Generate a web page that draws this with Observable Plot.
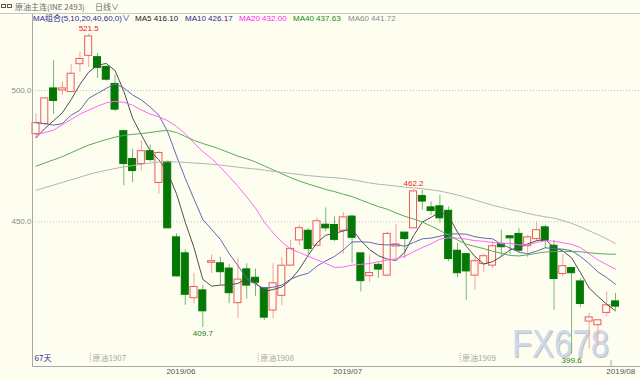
<!DOCTYPE html>
<html><head><meta charset="utf-8">
<script src="https://cdn.jsdelivr.net/npm/d3@7"></script>
<script src="https://cdn.jsdelivr.net/npm/@observablehq/plot@0.6"></script>
<style>
html,body{margin:0;padding:0;background:#fefef0;}
#chart{width:640px;height:380px;overflow:hidden;}
</style></head><body><div id="chart"></div>
<script>
// ---- data ----
const opens  = [483.6,487.4,500.6,500.2,499.6,510.2,513.4,512.5,508.8,502.3,484.3,473.7,472.2,476.7,465.0,472.6,443.9,437.8,421.1,423.7,434.6,434.0,432.0,419.2,431.7,428.5,424.5,416.4,422.0,433.5,443.1,446.4,441.1,448.7,448.6,446.8,451.8,437.8,429.5,433.4,429.7,440.8,445.7,447.7,459.6,455.3,455.7,454.0,438.8,437.5,429.7,434.1,433.5,441.4,444.3,445.2,440.9,443.6,447.7,440.7,430.3,432.2,427.1,412.2,410.8,415.5,419.5];
const highs  = [491.2,497.3,511.3,503.3,509.8,514.7,521.5,514.1,509.4,505.8,484.9,477.6,480.8,479.2,476.7,473.1,445.4,439.3,430.3,425.9,437.3,436.5,433.7,436.0,434.0,432.0,424.7,434.0,436.3,443.0,448.7,447.4,451.5,455.3,451.9,453.5,452.5,437.8,437.3,434.4,446.0,449.0,445.7,462.2,462.0,457.6,460.1,455.7,441.7,437.5,436.7,437.7,442.4,446.8,444.6,447.5,444.9,449.7,448.7,443.0,437.5,432.2,428.4,415.1,412.3,423.3,422.7];
const lows   = [481.7,486.5,490.9,498.2,499.2,506.9,508.8,504.6,503.5,491.9,463.7,464.9,469.3,472.8,460.5,447.4,429.0,418.2,418.8,409.7,430.3,426.0,418.8,413.2,420.5,421.5,412.4,413.0,418.0,433.5,440.9,437.3,441.1,446.2,442.4,437.7,434.1,423.3,426.9,428.4,429.0,436.0,436.0,447.7,454.4,452.5,449.4,434.8,428.7,420.1,424.0,430.6,432.2,436.7,437.5,437.9,436.3,442.4,439.8,416.3,429.1,399.6,417.3,401.5,403.0,413.8,416.3];
const closes = [487.4,496.8,496.2,500.6,506.2,511.8,520.4,508.8,504.3,492.9,472.2,469.5,476.7,473.7,476.0,447.7,429.4,422.4,425.0,416.1,434.8,431.0,423.0,427.8,425.9,427.0,413.7,426.4,433.1,439.5,447.4,439.8,450.0,447.7,443.3,451.5,444.1,427.6,430.3,432.0,445.2,441.2,443.6,461.4,457.9,454.3,451.5,436.0,430.6,431.3,434.8,436.7,440.5,440.5,443.9,439.2,443.9,446.6,442.9,428.4,432.9,430.6,418.9,413.4,412.3,418.0,417.9];

const ma5  = [482.0,485.5,488.5,491.5,496.5,502.3,507.0,509.6,510.3,507.6,499.7,489.5,483.1,477.0,473.6,468.7,460.7,449.8,440.1,428.1,425.5,425.9,426.0,426.5,428.5,426.9,423.5,424.2,425.2,427.9,432.0,437.2,442.0,444.9,445.6,446.5,447.3,442.8,439.4,437.1,435.8,435.3,438.5,444.7,449.9,451.7,453.7,452.2,446.1,440.7,436.8,433.9,434.8,436.8,439.3,440.2,441.6,442.8,443.3,440.2,438.9,436.3,430.7,424.8,421.6,418.6,416.10];
const ma10 = [487.7,487.4,486.8,487.4,490.6,492.5,497.0,498.9,500.8,502.5,501.0,498.3,496.4,493.7,490.6,484.2,475.1,466.5,458.6,450.9,447.1,443.3,437.9,433.3,428.3,426.2,424.7,425.1,425.9,428.2,429.5,430.4,433.1,435.1,436.8,439.3,442.3,442.4,442.2,441.4,441.2,441.3,440.7,442.1,443.5,443.8,444.5,445.4,445.4,445.3,444.3,443.8,443.5,441.5,440.0,438.5,437.8,438.8,440.1,439.8,439.6,439.0,436.8,434.1,430.9,428.8,426.17];
const ma20 = [483.2,484.0,484.9,487.0,489.0,491.0,492.5,494.0,495.3,495.9,495.5,494.4,492.6,491.0,490.0,488.5,486.3,483.5,480.0,476.7,474.1,470.8,467.2,463.5,459.5,455.2,449.9,445.8,442.3,439.6,438.3,436.9,435.5,434.2,432.6,432.8,433.5,433.8,434.1,434.8,435.4,435.9,436.9,438.6,440.2,441.6,443.4,443.9,443.8,443.4,442.8,442.6,442.1,441.8,441.8,441.2,441.2,442.1,442.8,442.6,442.0,441.4,440.2,437.8,435.5,433.7,432.00];
const ma40 = [471.2,472.4,473.6,474.8,476.3,477.8,479.2,480.3,481.3,482.2,482.9,483.3,483.6,484.0,484.5,484.8,484.0,482.5,481.0,479.8,478.8,477.6,476.3,475.0,474.0,472.8,471.3,469.8,468.3,466.8,465.5,464.4,463.4,462.3,461.5,460.5,459.6,458.3,457.0,455.8,454.8,453.4,452.1,451.1,449.9,448.4,446.7,444.9,443.1,441.5,440.6,439.8,438.8,438.0,437.2,437.0,437.4,438.0,438.5,438.7,438.7,438.7,438.6,438.2,437.9,437.7,437.63];
const ma60 = [462.0,463.0,464.0,465.0,466.0,467.0,468.0,468.9,469.6,470.3,470.9,471.4,471.9,472.4,472.8,472.9,472.8,472.6,472.4,472.2,471.9,471.6,471.2,470.8,470.4,470.1,469.7,469.2,468.8,468.4,468.0,467.6,467.3,467.0,466.8,466.5,466.0,465.4,464.8,464.3,464.0,463.6,463.2,462.9,462.6,462.2,461.7,461.0,460.2,459.3,458.3,457.3,456.3,455.5,454.7,454.0,453.2,452.5,451.9,451.4,450.5,449.4,448.1,446.6,445.1,443.5,441.72];

const peakIdx   = [6, 43];     // labelled highs
const troughIdx = [19, 61];    // labelled lows
const monthPos    = [16.5, 35.5, 66.6];
const monthLabels = ["2019/06", "2019/07", "2019/08"];
const rollPos    = [6.2, 25.3, 48.3];
const rollLabels = ["原油1907", "原油1908", "原油1909"];
const yTicks = [450, 500];

const maNames  = ["MA5", "MA10", "MA20", "MA40", "MA60"];
const maSeries = [ma5, ma10, ma20, ma40, ma60];
const maColors = ["#505050", "#6565b5", "#ff66ff", "#5aaa5a", "#b4b4b4"];
const maLegendColors = ["#202020", "#2a2a8a", "#ff22ff", "#108a10", "#8a8a8a"];

// ---- build ----
const bg = "#fefef0";
const xDomain = [-0.4, 68.85];
const yDomain = [394.9, 529.32];
const candles = opens.map((o, i) => ({i, o, h: highs[i], l: lows[i], c: closes[i], up: closes[i] >= o}));
const maData = maSeries.flatMap((arr, k) => arr.map((v, i) => ({i, v, k})));
const peaks = peakIdx.map(i => ({i, v: highs[i]}));
const troughs = troughIdx.map(i => ({i, v: lows[i]}));
const rolls = rollPos.map((p, k) => ({i: p, label: rollLabels[k]}));

const upStroke = "#f05858", upWick = "#f3a0a0";
const dnFill = "#047804", dnWick = "#74b874";

const chartSvg = Plot.plot({
  width: 640, height: 380,
  marginLeft: 32, marginRight: 0, marginTop: 13, marginBottom: 14,
  x: {type: "linear", domain: xDomain},
  y: {type: "linear", domain: yDomain},
  style: {background: bg, fontFamily: "'Liberation Sans', Arial, sans-serif", fontSize: "8px"},
  marks: [
    Plot.gridY(yTicks, {stroke: "#bdbdbd", strokeOpacity: 1, strokeDasharray: "1,2"}),
    Plot.ruleX(candles, {x: "i", y1: "l", y2: "h", stroke: d => d.up ? upWick : dnWick}),
    Plot.rect(candles, {
      x1: d => d.i - 0.4, x2: d => d.i + 0.4, y1: "o", y2: "c",
      insetTop: -0.5, insetBottom: -0.5,
      fill: d => d.up ? bg : dnFill, stroke: d => d.up ? upStroke : dnFill, strokeWidth: 1
    }),
    Plot.line(maData, {x: "i", y: "v", z: "k", stroke: d => maColors[d.k], strokeWidth: 1}),
    Plot.text(peaks, {x: "i", y: "v", text: d => d.v.toFixed(1), dy: -6, fill: "#e82020", fontSize: 8}),
    Plot.text(troughs, {x: "i", y: "v", text: d => d.v.toFixed(1), dy: 6, fill: "#1a7a1a", fontSize: 8}),
    Plot.ruleX(rolls, {x: "i", insetTop: 340, insetBottom: 3, stroke: "#aaaaaa", strokeDasharray: "1,1"}),
    Plot.text(rolls, {x: "i", frameAnchor: "bottom", text: "label", textAnchor: "start", dx: 2, dy: -6, fill: "#a8a8a8",
      fontFamily: "'Noto Sans CJK SC', sans-serif", fontSize: 8}),
    Plot.text([`${closes.length}天`], {frameAnchor: "bottom-left", dx: 2, dy: -6, fill: "#2a2a9a",
      fontFamily: "'Noto Sans CJK SC', sans-serif", fontSize: 8}),
    Plot.ruleX([xDomain[0]], {stroke: "#a8a8a8"}),
    Plot.ruleY([yDomain[0]], {stroke: "#a8a8a8"}),
    Plot.ruleX([65.5], {insetTop: 347, stroke: "#a8a8a8"}),
    Plot.axisY(yTicks, {tickFormat: d => d.toFixed(1), tickSize: 0, tickPadding: 1, fill: "#8c8c8c", label: null, fontSize: 8}),
    Plot.axisX(monthPos, {tickFormat: d => monthLabels[monthPos.indexOf(d)], tickSize: 0, tickPadding: 2, fill: "#555", label: null, fontSize: 8})
  ]
});
document.getElementById("chart").appendChild(chartSvg);

// ---- decorations: header, legend, watermark ----
const s = d3.select(chartSvg);
const wm = s.insert("g", ":first-child").attr("text-anchor", "start");
wm.append("text").attr("x", 513).attr("y", 357.5).attr("font-size", 38).attr("font-family", "'Liberation Sans', Arial, sans-serif")
  .attr("textLength", 97).attr("lengthAdjust", "spacingAndGlyphs").attr("fill", "#c9c1b8").text("FX678");
wm.append("text").attr("x", 512).attr("y", 356.5).attr("font-size", 38).attr("font-family", "'Liberation Sans', Arial, sans-serif")
  .attr("textLength", 97).attr("lengthAdjust", "spacingAndGlyphs").attr("fill", "#cdd9ee").text("FX678");

const hdr = s.append("g").attr("text-anchor", "start");
hdr.append("line").attr("x1", 0).attr("x2", 640).attr("y1", 13.5).attr("y2", 13.5).attr("stroke", "#c8c8c8");
hdr.append("rect").attr("x", 1.5).attr("y", 4.5).attr("width", 4).attr("height", 3).attr("fill", "none").attr("stroke", "#555");
hdr.append("rect").attr("x", 7.5).attr("y", 4.5).attr("width", 4).attr("height", 3).attr("fill", "none").attr("stroke", "#555");
hdr.append("text").attr("x", 15).attr("y", 9.5).attr("font-size", 8).attr("font-family", "'Noto Sans CJK SC', sans-serif")
  .attr("fill", "#6a6a6a").text("原油主连(INE 2493)");
hdr.append("text").attr("x", 95).attr("y", 9.5).attr("font-size", 8).attr("font-family", "'Noto Sans CJK SC', sans-serif")
  .attr("fill", "#6a6a6a").text("日线∨");
hdr.append("text").attr("x", 33).attr("y", 21).attr("font-size", 8).attr("font-family", "'Liberation Sans', 'Noto Sans CJK SC', sans-serif")
  .attr("fill", "#2a2a9a").text("MA组合(5,10,20,40,60,0)∨");
const legX = [135, 185, 239, 293, 348];
maNames.forEach((n, k) => {
  const arr = maSeries[k];
  hdr.append("text").attr("x", legX[k]).attr("y", 21).attr("font-size", 8)
    .attr("fill", maLegendColors[k]).text(`${n} ${arr[arr.length - 1].toFixed(2)}`);
});
</script>
</body></html>
